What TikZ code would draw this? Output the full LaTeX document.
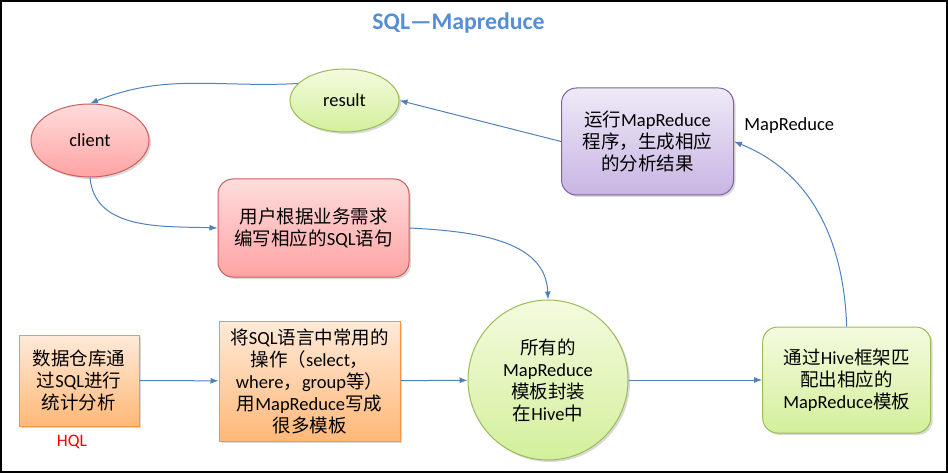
\documentclass[tikz,border=0pt]{standalone}
\usepackage{fontspec}
\setmainfont{Carlito}
\newfontfamily\cjk{Noto Sans CJK SC}
\newcommand{\zh}[1]{{\cjk #1}}
\usetikzlibrary{shapes.geometric}
\usetikzlibrary{shadows}
\usetikzlibrary{arrows.meta}

\definecolor{linkblue}{HTML}{4F81BD}
\definecolor{titleblue}{HTML}{558ED5}
\definecolor{redline}{HTML}{CD5F5C}
\definecolor{redtop}{HTML}{FFDCDC}
\definecolor{redbot}{HTML}{FFA3A3}
\definecolor{orangeline}{HTML}{F79646}
\definecolor{orangetop}{HTML}{FFEAD9}
\definecolor{orangebot}{HTML}{FFB877}
\definecolor{greenline}{HTML}{9BBB59}
\definecolor{greentop}{HTML}{F4FBDE}
\definecolor{greenbot}{HTML}{D3EF9B}
\definecolor{purpleline}{HTML}{8064A2}
\definecolor{purpletop}{HTML}{EFE9F7}
\definecolor{purplebot}{HTML}{C8B5E3}

\begin{document}
\begin{tikzpicture}[x=1pt,y=-1pt,
                    every node/.style={font=\fontsize{18.5}{22}\selectfont, align=center, inner sep=2pt},
                    link/.style={draw=linkblue, line width=1pt, -{Latex[length=8pt,width=6pt]}},
                    boxshadow/.style={drop shadow={opacity=0.3, shadow xshift=2pt, shadow yshift=-2pt}},
                    redpart/.style={draw=redline, line width=1pt, top color=redtop, bottom color=redbot, boxshadow},
                    orangepart/.style={draw=orangeline, line width=1pt, top color=orangetop, bottom color=orangebot, boxshadow},
                    greenpart/.style={draw=greenline, line width=1pt, top color=greentop, bottom color=greenbot, boxshadow},
                    purplepart/.style={draw=purpleline, line width=1pt, top color=purpletop, bottom color=purplebot, boxshadow}]
                    \useasboundingbox (0,0) rectangle (948,473);
                    \draw[line width=2pt] (1,1) rectangle (947,472);
                    % title and labels
                    \node[anchor=base, text=titleblue, font=\fontsize{23.8}{26}\selectfont\bfseries] (title) at (458.5,29.3) {SQL—Mapreduce};
                    \node[anchor=base] (mrlabel) at (789.3,131) {MapReduce};
                    \node[anchor=base, text=red, font=\fontsize{17.5}{20}\selectfont] (hql) at (72,446.5) {HQL};
                    % ellipses
                    \node[ellipse, greenpart, inner sep=0pt, minimum width=109, minimum height=63] (result) at (344.5,100.5) {result};
                    \node[ellipse, redpart, inner sep=0pt, minimum width=118, minimum height=73] (client) at (90,140.5) {client};
                    % boxes
                    \node[redpart, rounded corners=15pt, minimum width=191, minimum height=98] (write) at (313.5,228)
                        {\zh{用户根据业务需求}\\\zh{编写相应的}SQL\zh{语句}};
                    \node[purplepart, rounded corners=15pt, minimum width=172, minimum height=107] (run) at (647.5,141.5)
                        {\zh{运行}MapReduce\\\zh{程序，生成相应}\\\zh{的分析结果}};
                    \node[orangepart, minimum width=120, minimum height=91] (stat) at (79,380.5)
                        {\zh{数据仓库通}\\\zh{过}SQL\zh{进行}\\\zh{统计分析}};
                    \node[orangepart, minimum width=181, minimum height=120] (tmpl) at (309.5,381)
                        {\zh{将}SQL\zh{语言中常用的}\\\zh{操作（}select\zh{，}\\where\zh{，}group\zh{等）}\\\zh{用}MapReduce\zh{写成}\\\zh{很多模板}};
                    \node[circle, greenpart, inner sep=0pt, minimum size=160] (hive) at (548,380)
                        {\zh{所有的}\\MapReduce\\\zh{模板封装}\\\zh{在}Hive\zh{中}};
                    \node[greenpart, rounded corners=15pt, minimum width=168, minimum height=106] (match) at (846.7,380)
                        {\zh{通过}Hive\zh{框架匹}\\\zh{配出相应的}\\MapReduce\zh{模板}};
                    % connectors
                    \draw[link] (stat) -- (tmpl);
                    \draw[link] (tmpl) -- (hive);
                    \draw[link] (hive) -- (match);
                    \draw[link] (match.north) to[out=92, in=-22] (run.east);
                    \draw[link] (run.west) -- (result.east);
                    \draw[link] (result.160) to[out=183, in=22] (client.north);
                    \draw[link] (client.south) to[out=-85, in=178] (write.west);
                    \draw[link] (write.east) to[out=-3, in=92] (hive.north);
                \end{tikzpicture}
\end{document}
